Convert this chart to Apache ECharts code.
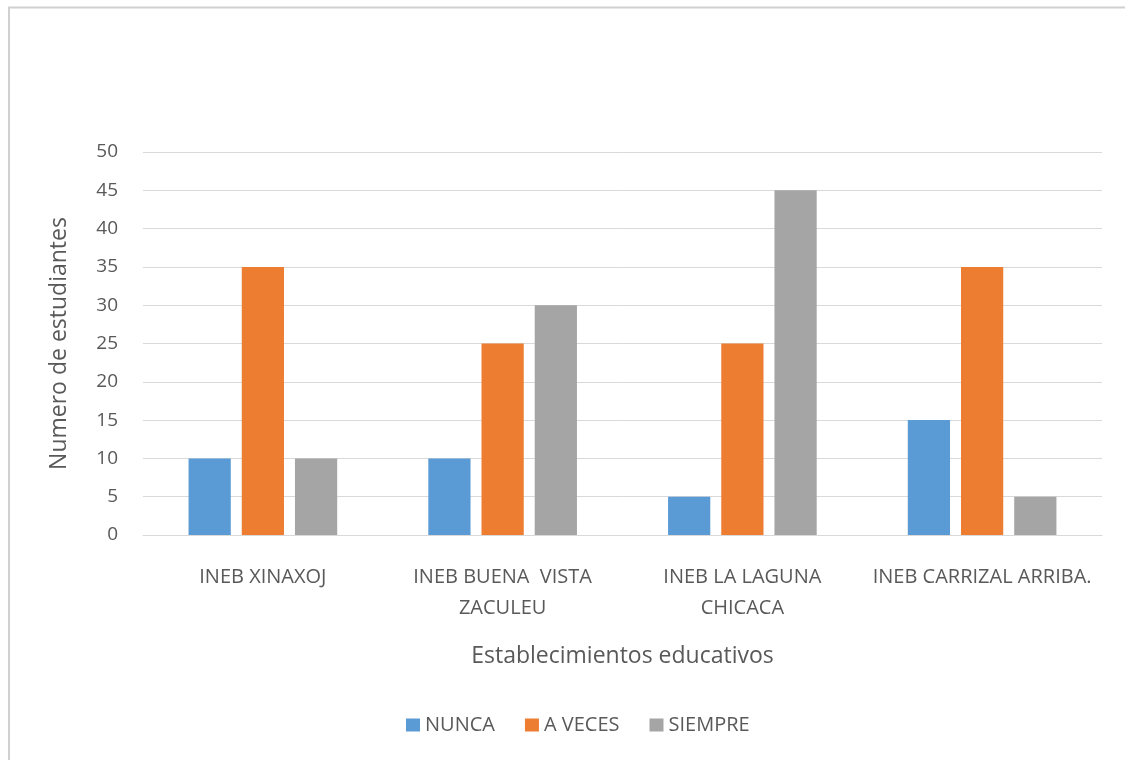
<!DOCTYPE html>
<html lang="es">
<head>
    <meta charset="UTF-8">
    <title>Numero de estudiantes</title>
    <script src="https://cdn.jsdelivr.net/npm/echarts@6/dist/echarts.min.js"></script>
    <style>
        html, body { margin: 0; padding: 0; background: #fff; }
        #container { width: 1125px; height: 760px; }
    </style>
</head>
<body>
    <div id="container"></div>
    <script type="text/javascript">
        var categories = ['INEB XINAXOJ', 'INEB BUENA  VISTA\nZACULEU', 'INEB LA LAGUNA\nCHICACA', 'INEB CARRIZAL ARRIBA.'];
        var nunca = [10, 10, 5, 15];
        var aVeces = [35, 25, 25, 35];
        var siempre = [10, 30, 45, 5];
        var yTicks = [0, 5, 10, 15, 20, 25, 30, 35, 40, 45, 50];

        var font = 'Open Sans';
        var textColor = '#595959';
        var myChart = echarts.init(document.getElementById('container'), null, { renderer: 'canvas' });

        function bar(name, data, color) {
            return {
                name: name,
                type: 'bar',
                data: data,
                barGap: '26%',
                barCategoryGap: '38%',
                itemStyle: { color: color }
            };
        }

        var option = {
            animation: false,
            // frame: only top and left edges show in the picture
            graphic: [{
                type: 'polyline',
                shape: { points: [[9, 800], [9, 7.5], [1125, 7.5]] },
                style: { fill: null, stroke: '#d0d0d0', lineWidth: 2 },
                silent: true
            }],
            grid: { left: 143, right: 23, top: 152, bottom: 225 },
            legend: {
                bottom: 20,
                left: 401,
                icon: 'rect',
                itemWidth: 14,
                itemHeight: 13,
                itemGap: 30,
                textStyle: { fontFamily: font, fontSize: 20, color: textColor },
                data: ['NUNCA', 'A VECES', 'SIEMPRE']
            },
            xAxis: {
                type: 'category',
                data: categories,
                name: 'Establecimientos educativos',
                nameLocation: 'middle',
                nameGap: 110,
                nameTextStyle: { fontFamily: font, fontSize: 23, color: textColor },
                axisLine: { lineStyle: { color: '#d9d9d9' } },
                axisTick: { show: false },
                axisLabel: {
                    margin: 27,
                    fontFamily: font, fontSize: 20, color: textColor,
                    lineHeight: 31, interval: 0
                }
            },
            yAxis: {
                type: 'value',
                min: yTicks[0],
                max: yTicks[yTicks.length - 1],
                interval: 5,
                name: 'Numero de estudiantes',
                nameLocation: 'middle',
                nameGap: 72,
                nameTextStyle: { fontFamily: font, fontSize: 23, color: textColor },
                axisLine: { show: false },
                axisTick: { show: false },
                splitLine: { lineStyle: { color: '#d9d9d9' } },
                axisLabel: { margin: 25, fontFamily: font, fontSize: 19, color: textColor }
            },
            series: [
                bar('NUNCA', nunca, '#5B9BD5'),
                bar('A VECES', aVeces, '#ED7D31'),
                bar('SIEMPRE', siempre, '#A5A5A5')
            ]
        };

        myChart.setOption(option);
        window.addEventListener('resize', myChart.resize);
    </script>
</body>
</html>
